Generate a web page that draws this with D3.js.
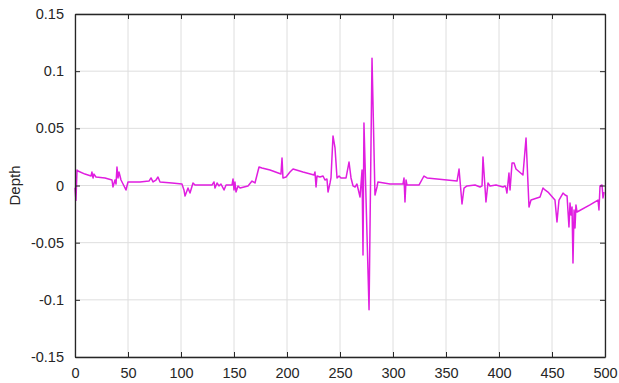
<!DOCTYPE html>
<html>
<head>
<script src="https://d3js.org/d3.v7.min.js"></script>
<style>
  body { margin: 0; background: #fff; }
  text { font-family: "Liberation Sans", Arial, sans-serif; }
</style>
</head>
<body>
<svg width="619" height="383"></svg>
<script>
// sample index
var xs = [0, 0.9, 1.9, 2.8, 9.4, 15.1, 16.0, 17.0, 17.9, 19.8, 28.3, 34.9, 35.8, 37.7, 38.7, 39.6, 40.6, 41.5, 43.4, 45.3,
  48.1, 50.0, 61.3, 69.8, 71.7, 73.6, 76.4, 78.3, 80.2, 91.5, 100.9, 102.8, 103.8, 106.6, 108.5, 111.3, 113.2, 129.2, 131.1, 132.1,
  134.0, 135.8, 137.7, 140.6, 142.5, 148.1, 149.1, 150.0, 150.9, 151.9, 153.8, 155.7, 163.2, 167.0, 169.8, 173.6, 176.4, 184.0, 194.3, 195.3,
  196.2, 199.1, 202.8, 205.7, 215.1, 225.5, 226.4, 227.4, 228.3, 231.1, 234.0, 235.8, 237.7, 238.7, 240.6, 241.5, 243.4, 245.3, 247.2, 249.1,
  250.9, 255.7, 258.5, 260.4, 262.3, 264.2, 266.0, 268.9, 270.8, 271.7, 272.6, 277.4, 280.2, 283.0, 284.9, 285.8, 297.2, 309.4, 310.4, 311.3,
  312.3, 313.2, 324.5, 329.2, 332.1, 360.4, 362.3, 365.1, 367.0, 369.8, 377.4, 382.1, 384.0, 384.9, 387.7, 389.6, 391.5, 397.2, 403.8, 405.7,
  406.6, 407.5, 409.4, 410.4, 412.3, 414.2, 416.0, 422.6, 425.5, 428.3, 430.2, 438.7, 441.5, 443.4, 446.2, 452.8, 454.7, 456.6, 460.4, 462.3,
  464.2, 466.0, 467.0, 467.9, 468.9, 469.8, 470.8, 471.7, 472.6, 473.6, 485.8, 493.4, 494.3, 495.3, 497.2, 498.1, 499.1];
// depth values
var depth = [-0.002, -0.013, 0.0135, 0.0127, 0.010, 0.0083, 0.0118, 0.0066, 0.010, 0.0074, 0.0066, 0.0048, -0.0013, 0.0048, 0.0013, 0.0162, 0.0066, 0.0118, 0.0048, 0.0013,
  -0.0039, 0.0031, 0.0031, 0.0039, 0.0066, 0.0031, 0.0048, 0.0074, 0.0031, 0.0022, 0.0013, -0.0039, -0.0092, -0.0022, -0.0066, 0.0022, 0.0004, 0.0004, 0.0031, -0.0022,
  0.0022, -0.0004, 0.0013, -0.0039, 0.0004, 0.0004, 0.0057, -0.0039, 0.0031, -0.0057, -0.0004, -0.0022, -0.0004, 0.0039, 0.0022, 0.0162, 0.0153, 0.0135, 0.0101, 0.0240,
  0.0066, 0.0074, 0.0118, 0.0144, 0.0118, 0.0092, 0.0118, -0.0013, 0.0083, 0.0074, 0.0083, 0.0048, 0.0057, -0.0057, 0.0022, 0.0066, 0.0433, 0.0328, 0.0066, 0.0083,
  0.0066, 0.0066, 0.0205, 0.0066, -0.0004, -0.0013, 0.0013, -0.0101, 0.0135, -0.0607, 0.0546, -0.1087, 0.1114, -0.0083, -0.0013, 0.0031, 0.0013, 0.0013, 0.0066, -0.0144,
  0.0048, 0.0004, 0.0004, 0.0083, 0.0066, 0.0039, 0.0144, -0.0162, -0.0022, -0.0004, 0.0004, -0.0013, -0.0004, 0.0249, -0.0144, 0.0022, -0.0004, 0.0004, -0.0013, -0.0004,
  -0.0022, -0.0066, 0.0109, -0.0039, 0.0197, 0.0197, 0.0144, 0.0092, 0.0415, -0.0188, -0.0127, -0.0101, -0.0022, -0.0039, -0.0057, -0.0127, -0.0319, -0.0127, -0.0066, -0.0083,
  -0.0092, -0.0363, -0.0153, -0.0258, -0.0188, -0.0677, -0.0214, -0.0371, -0.0170, -0.0232, -0.0170, -0.0127, -0.0214, -0.0004, 0.0004, -0.0109, -0.0057];

var xTicks = [0, 50, 100, 150, 200, 250, 300, 350, 400, 450, 500];
var yTicks = [-0.15, -0.1, -0.05, 0, 0.05, 0.1, 0.15];

var svg = d3.select('svg');
var mLeft = 75, mRight = 605, mTop = 14, mBottom = 357;

var x = d3.scaleLinear().domain([0, 500]).range([mLeft, mRight]);
var y = d3.scaleLinear().domain([-0.15, 0.15]).range([mBottom, mTop]);

// grid
svg.append('g').selectAll('line').data(xTicks).enter().append('line')
  .attr('x1', function(d) { return x(d); }).attr('x2', function(d) { return x(d); })
  .attr('y1', mTop).attr('y2', mBottom)
  .attr('stroke', '#dedede').attr('stroke-width', 1);
svg.append('g').selectAll('line').data(yTicks).enter().append('line')
  .attr('y1', function(d) { return y(d); }).attr('y2', function(d) { return y(d); })
  .attr('x1', mLeft).attr('x2', mRight)
  .attr('stroke', '#dedede').attr('stroke-width', 1);

// data line
var pts = xs.map(function(v, i) { return [v, depth[i]]; });
svg.append('path')
  .datum(pts)
  .attr('fill', 'none')
  .attr('stroke', '#e01ee0')
  .attr('stroke-width', 1.5)
  .attr('stroke-linejoin', 'round')
  .attr('d', d3.line().x(function(d) { return x(d[0]); }).y(function(d) { return y(d[1]); }));

// axes (ticks pointing inward, box around)
var fmtY = function(d) { return d === 0 ? '0' : String(+d.toFixed(2)); };
var gx = svg.append('g').attr('transform', 'translate(0,' + mBottom + ')')
  .call(d3.axisBottom(x).tickValues(xTicks).tickSizeInner(-5).tickSizeOuter(0).tickPadding(11));
var gy = svg.append('g').attr('transform', 'translate(' + mLeft + ',0)')
  .call(d3.axisLeft(y).tickValues(yTicks).tickFormat(fmtY).tickSizeInner(-5).tickSizeOuter(0).tickPadding(11));
var gt = svg.append('g').attr('transform', 'translate(0,' + mTop + ')')
  .call(d3.axisTop(x).tickValues(xTicks).tickSizeInner(-5).tickSizeOuter(0).tickFormat(''));
var gr = svg.append('g').attr('transform', 'translate(' + mRight + ',0)')
  .call(d3.axisRight(y).tickValues(yTicks).tickSizeInner(-5).tickSizeOuter(0).tickFormat(''));

[gx, gy, gt, gr].forEach(function(g) {
  g.select('.domain').attr('stroke', '#262626').attr('stroke-width', 1.3);
  g.selectAll('.tick line').attr('stroke', '#262626');
  g.selectAll('.tick text').attr('fill', '#262626').style('font-size', '14.5px')
    .style('font-family', '"Liberation Sans", Arial, sans-serif');
});

svg.append('text')
  .attr('transform', 'translate(20,' + ((mTop + mBottom) / 2) + ') rotate(-90)')
  .attr('text-anchor', 'middle')
  .attr('fill', '#262626')
  .style('font-size', '15px')
  .text('Depth');
</script>
</body>
</html>
